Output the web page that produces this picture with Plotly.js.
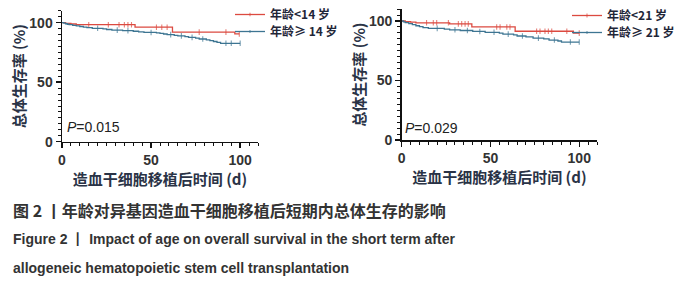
<!DOCTYPE html>
<html><head><meta charset="utf-8">
<script src="https://cdn.plot.ly/plotly-3.0.1.min.js"></script>
<style>html,body{margin:0;padding:0;background:#fff}#chart{width:693px;height:300px}</style>
</head><body><div id="chart"></div>
<script>
// ---- Left panel: age < 14 vs >= 14 ----
const daysA = [0, 2, 5, 8, 15, 26, 32, 35, 37, 39, 41, 53, 56, 59, 62, 77, 92, 97, 99.5];
const survA = [100, 99.4, 98.9, 98.3, 98.3, 98.3, 98.3, 98.3, 98.3, 98.3, 96.2, 96.2, 96.2, 96.2, 92.1, 92.1, 92.1, 90.6, 90.6];
const censA = [0,0,0,0,1,1,1,1,1,1,0,1,1,1,0,1,1,0,1];

const daysB = [0,1,2,3,4,6,8,10,12,14,17,20,23,25,28,31,34,37,40,43,46,50,53,55,57,59,61,63,65,67,69,71,73,75,77,79,81,83,85,87,89,92,95,100];
const survB = [100,99.6,99.1,98.7,98.3,97.8,97.3,96.8,96.3,95.8,95.3,95.3,94.8,94.3,93.8,93.8,93.3,93.3,92.8,92.3,91.8,91.8,91.4,91.0,90.5,90.0,90.0,89.4,88.9,88.9,88.3,87.7,87.7,87.0,86.3,86.3,85.6,85.0,84.2,83.4,82.7,82.7,82.7,82.7];
const censB = [0,0,0,0,0,0,0,0,0,0, 0,1,0,0,0,1,0,1,0,0, 0,1,0,0,0,0,1,0,0,1, 0,0,1,0,0,1,0,0,0,0, 0,1,1,1];

// ---- Right panel: age < 21 vs >= 21 ----
const daysC = [0, 2, 5, 8, 14, 17.8, 19.7, 26.3, 27, 31.9, 33.8, 35.7, 37.5, 39.5, 53.5, 55.4, 59.2, 61, 63.9, 76, 77.9, 80.7, 82.6, 84.5, 93, 96.7, 100];
const survC = [100, 99.5, 99.0, 98.5, 98.5, 98.5, 98.5, 98.5, 97.6, 97.6, 97.6, 97.6, 97.6, 95.0, 95.0, 95.0, 95.0, 95.0, 91.4, 91.4, 91.4, 91.4, 91.4, 91.4, 91.4, 89.8, 89.8];
const censC = [0,0,0,0,1,1,1,1,0,1, 1,1,1,0,1,1,1,1,0,1, 1,1,1,1,1,0,1];

const daysD = [0,1,2,4,6,8,10,12,15,20,24,27,30,33,37,40,44,47,52,55,57,60,63,65,68,70,74,77,80,83,86,88,90,95,100];
const survD = [100,99.3,98.6,97.8,96.9,96.0,95.2,94.5,93.8,93.8,93.2,92.6,92.6,92.0,92.0,91.2,91.2,90.5,90.5,89.8,89.0,89.0,88.4,87.4,87.4,86.6,85.6,85.6,84.9,84.0,84.0,83.2,82.3,82.3,82.3];
const censD = [0,0,0,0,0,0,0,0,0,1, 0,0,1,0,1,0,1,0,1,0, 0,1,0,0,1,0,0,1,0,0, 1,0,0,1,1];

const legendNames = ['年龄<14 岁', '年龄≥ 14 岁', '年龄<21 岁', '年龄≥ 21 岁'];
const pValues = ['0.015', '0.029'];
const xTitle = '造血干细胞移植后时间 (d)';
const yTitle = '总体生存率 (%)';
const captionCN = '图 2 丨年龄对异基因造血干细胞移植后短期内总体生存的影响';
const captionEN1 = 'Figure 2 丨 Impact of age on overall survival in the short term after';
const captionEN2 = 'allogeneic hematopoietic stem cell transplantation';

const RED = '#dc4a40', BLUE = '#3d7592';
const CJK = '"Noto Sans CJK SC", "Noto Sans", sans-serif';

function km(days, surv, cens, name, color, xa, ya, leg) {
  return {
    type: 'scatter', mode: 'lines+markers', name: name,
    x: days, y: surv, xaxis: xa, yaxis: ya, legend: leg,
    line: {shape: 'hv', color: color, width: 1.3},
    marker: {symbol: 'line-ns-open', size: cens.map(c => c ? 4 : 0), color: color,
             line: {color: color, width: 1.1}},
    hoverinfo: 'skip'
  };
}

const data = [
  km(daysA, survA, censA, legendNames[0], RED, 'x', 'y', 'legend'),
  km(daysB, survB, censB, legendNames[1], BLUE, 'x', 'y', 'legend2'),
  km(daysC, survC, censC, legendNames[2], RED, 'x2', 'y2', 'legend3'),
  km(daysD, survD, censD, legendNames[3], BLUE, 'x2', 'y2', 'legend4')
];

const axisBase = {
  range: [0, 110], showline: true, linecolor: '#111', linewidth: 1.5,
  ticks: 'outside', ticklen: 5, tickwidth: 1.5, tickcolor: '#111',
  tick0: 0, dtick: 50, showgrid: false, zeroline: false,
  minor: {ticks: 'outside', dtick: 5, ticklen: 3, tickwidth: 1, tickcolor: '#111', showgrid: false},
  tickfont: {family: 'Liberation Sans, Arial, sans-serif', size: 14, color: '#333', weight: 'bold'}
};
const titleFont = {family: CJK, size: 15, color: '#2a3346', weight: 'bold'};

function xAxis(domain, anchor) {
  return Object.assign({}, axisBase, {domain: domain, anchor: anchor,
    title: {text: xTitle, font: titleFont, standoff: 1}});
}
function yAxis(domain, anchor) {
  return Object.assign({}, axisBase, {domain: domain, anchor: anchor,
    title: {text: yTitle, font: titleFont, standoff: 0}});
}

const legFont = {family: CJK, size: 12, color: '#1f2638', weight: 'bold'};
function leg(xpx, ypx) {
  return {x: xpx/693, xanchor: 'left', y: 1 - ypx/300, yanchor: 'top', bgcolor: 'rgba(0,0,0,0)',
          font: legFont, itemwidth: 30};
}
const layout = {
  width: 693, height: 300,
  margin: {l: 0, r: 0, t: 0, b: 0},
  paper_bgcolor: '#fff', plot_bgcolor: '#fff',
  showlegend: true,
  xaxis: xAxis([62/693, 258/693], 'y'),
  yaxis: yAxis([1 - 141.7/300, 1 - 10.8/300], 'x'),
  xaxis2: xAxis([401.7/693, 597/693], 'y2'),
  yaxis2: yAxis([1 - 140/300, 1 - 9.1/300], 'x2'),
  legend: leg(230, 0),
  legend2: leg(230, 17),
  legend3: leg(567, 1),
  legend4: leg(567, 18),
  annotations: [
    {xref: 'x', yref: 'y', x: 1.5, y: 12.6, xanchor: 'left', yanchor: 'middle', showarrow: false,
     text: '<i>P</i>=' + pValues[0], font: {family: 'Liberation Sans, Arial, sans-serif', size: 14, color: '#222'}},
    {xref: 'x2', yref: 'y2', x: 1.0, y: 10.5, xanchor: 'left', yanchor: 'middle', showarrow: false,
     text: '<i>P</i>=' + pValues[1], font: {family: 'Liberation Sans, Arial, sans-serif', size: 14, color: '#222'}},
    {xref: 'paper', yref: 'paper', x: 11/693, y: 1 - 210/300, xanchor: 'left', yanchor: 'middle', showarrow: false,
     text: captionCN, font: {family: CJK, size: 16, color: '#333', weight: 'bold'}},
    {xref: 'paper', yref: 'paper', x: 11/693, y: 1 - 239/300, xanchor: 'left', yanchor: 'middle', showarrow: false,
     text: captionEN1, font: {family: '"Liberation Sans Narrow", Arial, sans-serif', size: 14, color: '#333', weight: 'bold'}},
    {xref: 'paper', yref: 'paper', x: 11/693, y: 1 - 268/300, xanchor: 'left', yanchor: 'middle', showarrow: false,
     text: captionEN2, font: {family: '"Liberation Sans Narrow", Arial, sans-serif', size: 14, color: '#333', weight: 'bold'}}
  ]
};

Plotly.newPlot('chart', data, layout, {displayModeBar: false, staticPlot: true});
</script>
</body></html>
